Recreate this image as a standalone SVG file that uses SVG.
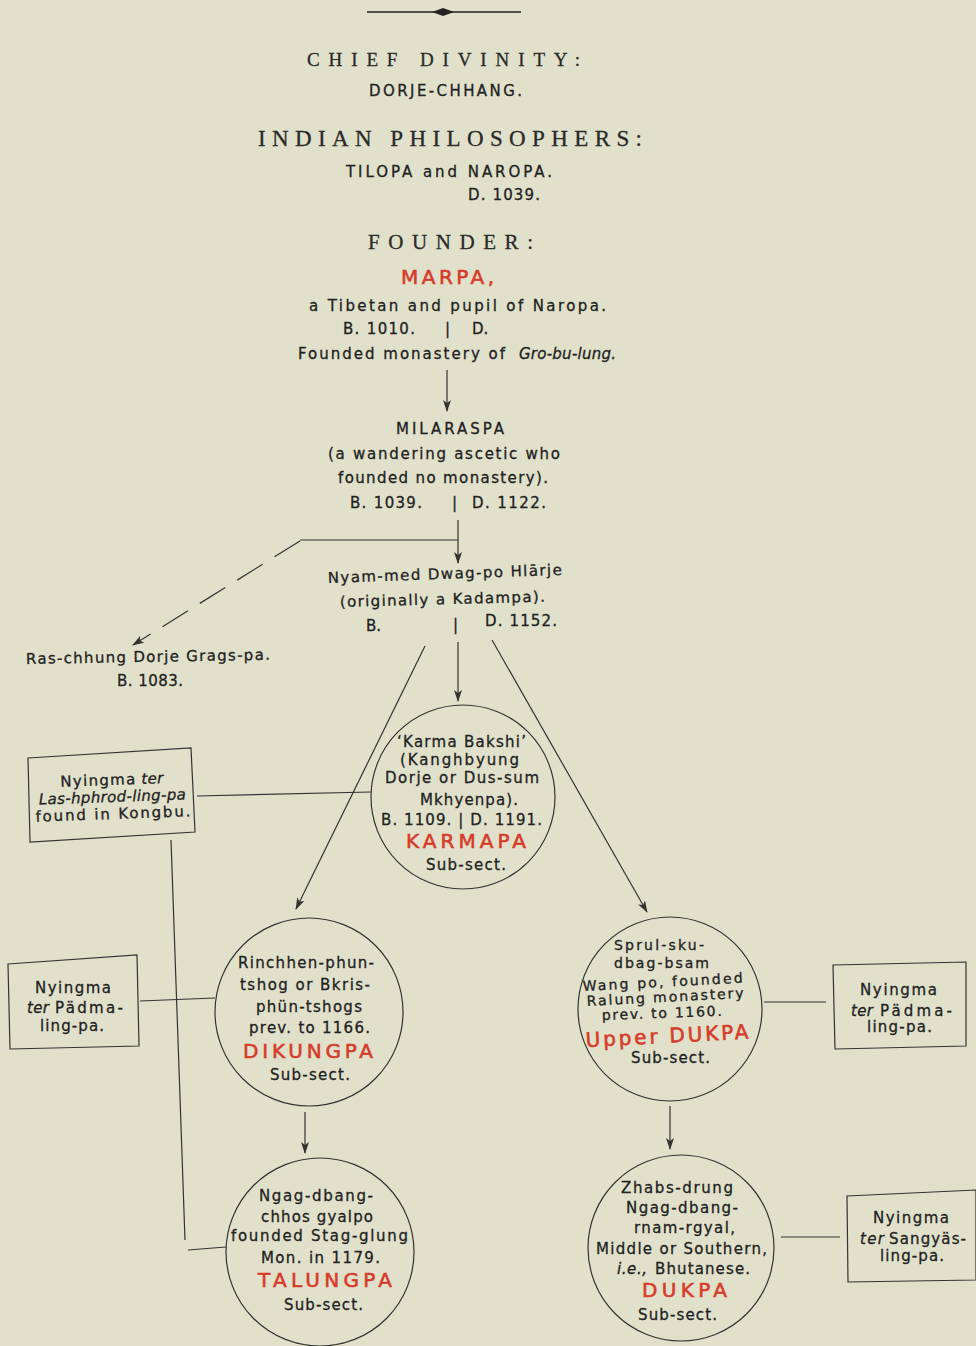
<svg xmlns="http://www.w3.org/2000/svg" width="976" height="1346" viewBox="0 0 976 1346">
<defs>
<style>
.t{font-family:"DejaVu Sans","Liberation Sans",Arial,sans-serif;font-size:15px;fill:#222;stroke:#222;stroke-width:0.3}
.s{font-size:14px}
.h{font-family:"Liberation Serif","Times New Roman",serif;fill:#2a2a2a;stroke:#2a2a2a;stroke-width:0.3}
.r{font-family:"DejaVu Sans","Liberation Sans",Arial,sans-serif;font-size:20px;fill:#d63c2a;stroke:#d63c2a;stroke-width:0.6}
.i{font-style:italic}
.ln{stroke:#333;stroke-width:1.2;fill:none}
.nd{stroke:#333;stroke-width:1.2;fill:none}
</style>
<marker id="ah" markerWidth="12" markerHeight="8" refX="11" refY="4" orient="auto" markerUnits="userSpaceOnUse">
<path d="M0,0 L12,4 L0,8 L3,4 z" fill="#333"/>
</marker>
</defs>
<rect width="976" height="1346" fill="#e1e0cb"/>

<g id="ornament">
<line x1="367" y1="12" x2="521" y2="12" stroke="#222" stroke-width="1.6"/>
<polygon points="432,12 443,8 454,12 443,16" fill="#222"/>
</g>

<g id="header">
<text class="h" x="307" y="66" font-size="19" textLength="273" lengthAdjust="spacing">CHIEF DIVINITY:</text>
<text class="t" x="369" y="96" textLength="153" lengthAdjust="spacing">DORJE-CHHANG.</text>
<text class="h" x="258" y="146" font-size="23" textLength="384" lengthAdjust="spacing">INDIAN PHILOSOPHERS:</text>
<text class="t" x="346" y="177" textLength="206" lengthAdjust="spacing">TILOPA and NAROPA.</text>
<text class="t" x="468" y="200" textLength="72" lengthAdjust="spacing">D. 1039.</text>
<text class="h" x="368" y="249" font-size="21" textLength="165" lengthAdjust="spacing">FOUNDER:</text>
</g>

<g id="marpa">
<text class="r" x="401" y="284" textLength="93" lengthAdjust="spacing">MARPA,</text>
<text class="t" x="309" y="311" textLength="297" lengthAdjust="spacing">a Tibetan and pupil of Naropa.</text>
<text class="t" x="343" y="334" textLength="72" lengthAdjust="spacing">B. 1010.</text>
<text class="t" x="445" y="334">|</text>
<text class="t" x="472" y="334">D.</text>
<text class="t" x="298" y="359" textLength="207" lengthAdjust="spacing">Founded monastery of</text>
<text class="t i" x="519" y="359" textLength="97" lengthAdjust="spacing">Gro-bu-lung.</text>
</g>

<g id="milaraspa">
<text class="t" x="396" y="434" textLength="108" lengthAdjust="spacing">MILARASPA</text>
<text class="t" x="328" y="459" textLength="232" lengthAdjust="spacing">(a wandering ascetic who</text>
<text class="t" x="338" y="483" textLength="210" lengthAdjust="spacing">founded no monastery).</text>
<text class="t" x="350" y="508" textLength="72" lengthAdjust="spacing">B. 1039.</text>
<text class="t" x="452" y="508">|</text>
<text class="t" x="472" y="508" textLength="74" lengthAdjust="spacing">D. 1122.</text>
</g>

<g id="nyammed">
<text class="t" x="328" y="583" textLength="234" lengthAdjust="spacing" transform="rotate(-2 328 583)">Nyam-med Dwag-po Hlārje</text>
<text class="t" x="340" y="607" textLength="205" lengthAdjust="spacing" transform="rotate(-1.5 340 607)">(originally a Kadampa).</text>
<text class="t" x="366" y="631">B.</text>
<text class="t" x="453" y="630">|</text>
<text class="t" x="485" y="626" textLength="72" lengthAdjust="spacing">D. 1152.</text>
</g>

<g id="raschhung">
<text class="t" x="26" y="664" textLength="244" lengthAdjust="spacing" transform="rotate(-1 26 664)">Ras-chhung Dorje Grags-pa.</text>
<text class="t" x="117" y="686" textLength="66" lengthAdjust="spacing">B. 1083.</text>
</g>

<g id="karmapa">
<circle class="nd" cx="463" cy="797" r="92"/>
<text class="t" x="397" y="747" textLength="129" lengthAdjust="spacing">‘Karma Bakshi’</text>
<text class="t" x="400" y="765" textLength="119" lengthAdjust="spacing">(Kanghbyung</text>
<text class="t" x="385" y="783" textLength="154" lengthAdjust="spacing">Dorje or Dus-sum</text>
<text class="t" x="420" y="805" textLength="98" lengthAdjust="spacing">Mkhyenpa).</text>
<text class="t" x="381" y="825" textLength="161" lengthAdjust="spacing">B. 1109. | D. 1191.</text>
<text class="r" x="406" y="848" textLength="120" lengthAdjust="spacing">KARMAPA</text>
<text class="t" x="426" y="870" textLength="80" lengthAdjust="spacing">Sub-sect.</text>
</g>

<g id="box-lashphrod">
<polygon class="nd" points="28,758 191,748 195,832 30,842"/>
<g transform="rotate(-2 111 800)">
<text class="t" x="61" y="785" textLength="75" lengthAdjust="spacing">Nyingma</text>
<text class="t i" x="142" y="785" textLength="22" lengthAdjust="spacing">ter</text>
<text class="t i" x="39" y="802" textLength="147" lengthAdjust="spacing">Las-hphrod-ling-pa</text>
<text class="t" x="35" y="819" textLength="155" lengthAdjust="spacing">found in Kongbu.</text>
</g>
</g>

<g id="box-padma-left">
<polygon class="nd" points="8,964 137,955 139,1046 10,1049"/>
<text class="t" x="35" y="993" textLength="76" lengthAdjust="spacing">Nyingma</text>
<text class="t i" x="27" y="1013" textLength="22" lengthAdjust="spacing">ter</text>
<text class="t" x="55" y="1013" textLength="68" lengthAdjust="spacing">Pädma-</text>
<text class="t" x="40" y="1031" textLength="64" lengthAdjust="spacing">ling-pa.</text>
</g>

<g id="dikungpa">
<circle class="nd" cx="309" cy="1012" r="94"/>
<text class="t" x="238" y="968" textLength="136" lengthAdjust="spacing">Rinchhen-phun-</text>
<text class="t" x="240" y="990" textLength="130" lengthAdjust="spacing">tshog or Bkris-</text>
<text class="t" x="256" y="1012" textLength="106" lengthAdjust="spacing">phün-tshogs</text>
<text class="t" x="249" y="1033" textLength="121" lengthAdjust="spacing">prev. to 1166.</text>
<text class="r" x="243" y="1058" textLength="130" lengthAdjust="spacing">DIKUNGPA</text>
<text class="t" x="270" y="1080" textLength="80" lengthAdjust="spacing">Sub-sect.</text>
</g>

<g id="talungpa">
<circle class="nd" cx="320" cy="1252" r="94"/>
<text class="t" x="259" y="1201" textLength="114" lengthAdjust="spacing">Ngag-dbang-</text>
<text class="t" x="261" y="1222" textLength="112" lengthAdjust="spacing">chhos gyalpo</text>
<text class="t" x="231" y="1241" textLength="177" lengthAdjust="spacing">founded Stag-glung</text>
<text class="t" x="261" y="1263" textLength="119" lengthAdjust="spacing">Mon. in 1179.</text>
<text class="r" x="258" y="1287" textLength="134" lengthAdjust="spacing">TALUNGPA</text>
<text class="t" x="284" y="1310" textLength="79" lengthAdjust="spacing">Sub-sect.</text>
</g>

<g id="upper-dukpa">
<circle class="nd" cx="670" cy="1009" r="92"/>
<text class="t s" x="614" y="950" textLength="90" lengthAdjust="spacing">Sprul-sku-</text>
<text class="t s" x="614" y="968" textLength="95" lengthAdjust="spacing">dbag-bsam</text>
<text class="t s" x="583" y="991" textLength="160" lengthAdjust="spacing" transform="rotate(-3 583 991)">Wang po, founded</text>
<text class="t s" x="587" y="1006" textLength="157" lengthAdjust="spacing" transform="rotate(-3 587 1006)">Ralung monastery</text>
<text class="t s" x="602" y="1020" textLength="120" lengthAdjust="spacing" transform="rotate(-2 602 1020)">prev. to 1160.</text>
<text class="r" x="586" y="1047" textLength="163" lengthAdjust="spacing" transform="rotate(-3 586 1047)">Upper DUKPA</text>
<text class="t" x="631" y="1063" textLength="79" lengthAdjust="spacing">Sub-sect.</text>
</g>

<g id="box-padma-right">
<polygon class="nd" points="833,965 966,962 966,1046 835,1049"/>
<text class="t" x="860" y="995" textLength="77" lengthAdjust="spacing">Nyingma</text>
<text class="t i" x="851" y="1016" textLength="22" lengthAdjust="spacing">ter</text>
<text class="t" x="880" y="1016" textLength="72" lengthAdjust="spacing">Pädma-</text>
<text class="t" x="867" y="1032" textLength="65" lengthAdjust="spacing">ling-pa.</text>
</g>

<g id="dukpa">
<circle class="nd" cx="681" cy="1248" r="93"/>
<text class="t" x="621" y="1193" textLength="112" lengthAdjust="spacing">Zhabs-drung</text>
<text class="t" x="626" y="1213" textLength="112" lengthAdjust="spacing">Ngag-dbang-</text>
<text class="t" x="634" y="1233" textLength="101" lengthAdjust="spacing">rnam-rgyal,</text>
<text class="t" x="596" y="1254" textLength="171" lengthAdjust="spacing">Middle or Southern,</text>
<text class="t i" x="617" y="1274" textLength="30" lengthAdjust="spacing">i.e.,</text>
<text class="t" x="655" y="1274" textLength="95" lengthAdjust="spacing">Bhutanese.</text>
<text class="r" x="642" y="1297" textLength="85" lengthAdjust="spacing">DUKPA</text>
<text class="t" x="638" y="1320" textLength="79" lengthAdjust="spacing">Sub-sect.</text>
</g>

<g id="box-sangyas">
<polygon class="nd" points="847,1196 976,1190 976,1280 848,1282"/>
<text class="t" x="873" y="1223" textLength="76" lengthAdjust="spacing">Nyingma</text>
<text class="t i" x="860" y="1244" textLength="24" lengthAdjust="spacing">ter</text>
<text class="t" x="889" y="1244" textLength="77" lengthAdjust="spacing">Sangyäs-</text>
<text class="t" x="880" y="1261" textLength="64" lengthAdjust="spacing">ling-pa.</text>
</g>

<g id="connectors">
<line class="ln" x1="447" y1="370" x2="447" y2="411" marker-end="url(#ah)"/>
<line class="ln" x1="300" y1="540" x2="458" y2="540"/>
<line class="ln" x1="458" y1="520" x2="458" y2="563" marker-end="url(#ah)"/>
<line class="ln" x1="300" y1="541" x2="133" y2="645" stroke-dasharray="30,14" marker-end="url(#ah)"/>
<line class="ln" x1="425" y1="646" x2="296" y2="909" marker-end="url(#ah)"/>
<line class="ln" x1="458" y1="642" x2="458" y2="701" marker-end="url(#ah)"/>
<line class="ln" x1="492" y1="640" x2="647" y2="912" marker-end="url(#ah)"/>
<line class="ln" x1="197" y1="796" x2="371" y2="792"/>
<line class="ln" x1="171" y1="840" x2="185" y2="1240"/>
<line class="ln" x1="140" y1="1001" x2="215" y2="998"/>
<line class="ln" x1="188" y1="1250" x2="226" y2="1247"/>
<line class="ln" x1="305" y1="1112" x2="305" y2="1153" marker-end="url(#ah)"/>
<line class="ln" x1="764" y1="1002" x2="826" y2="1002"/>
<line class="ln" x1="670" y1="1106" x2="670" y2="1149" marker-end="url(#ah)"/>
<line class="ln" x1="781" y1="1237" x2="840" y2="1237"/>
</g>
</svg>
